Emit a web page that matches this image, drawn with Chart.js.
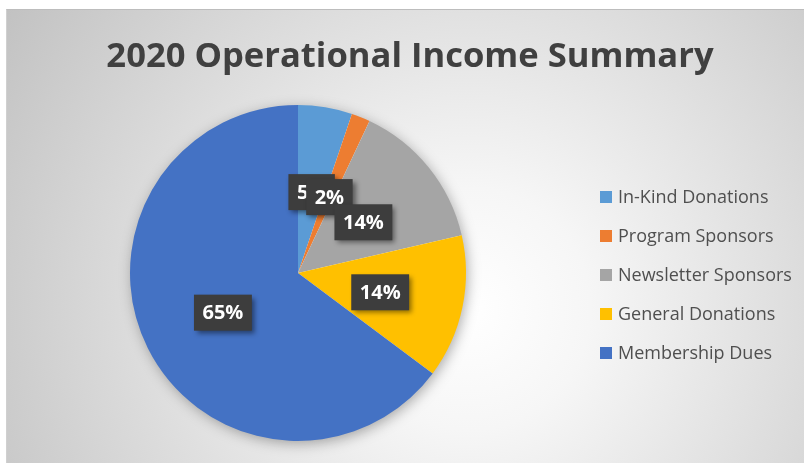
<!DOCTYPE html>
<html>
<head>
<meta charset="utf-8">
<script src="https://cdn.jsdelivr.net/npm/chart.js@4.4.1/dist/chart.umd.min.js"></script>
<style>
  html, body { margin: 0; padding: 0; background: #ffffff; }
  #wrap { position: relative; width: 804px; height: 463px; overflow: hidden; }
  #bg {
    position: absolute; left: 6px; top: 9px; width: 798px; height: 454px;
    box-sizing: border-box; border-top: 1px solid #bdbdbd; border-left: 1px solid #d0d0d0;
    background: radial-gradient(circle farthest-corner at 58% 66%, #ffffff 0%, #f6f6f6 22%, #c2c2c2 100%);
  }
  #chart { position: absolute; left: 0; top: 0; }
</style>
</head>
<body>
<div id="wrap">
  <div id="bg"></div>
  <canvas id="chart" width="804" height="463"></canvas>
</div>
<script>
// Chart data
const categories = ["In-Kind Donations", "Program Sponsors", "Newsletter Sponsors", "General Donations", "Membership Dues"];
const shares = [5.2, 1.8, 14.4, 13.8, 64.8];
const colors = ["#5B9BD5", "#ED7D31", "#A5A5A5", "#FFC000", "#4472C4"];
const titleText = "2020 Operational Income Summary";

const FONT = "'Open Sans', 'Liberation Sans', sans-serif";

// title across the whole card (chart area is pushed left by the legend)
const cardTitle = {
  id: "cardTitle",
  afterDraw(chart) {
    const ctx = chart.ctx;
    ctx.save();
    ctx.font = "bold 34.6px " + FONT;
    ctx.fillStyle = "#404040";
    ctx.textAlign = "center";
    ctx.textBaseline = "alphabetic";
    ctx.fillText(titleText, 410, 67);
    ctx.restore();
  }
};

// soft shadow under the whole pie
const pieShadow = {
  id: "pieShadow",
  beforeDatasetsDraw(chart) {
    const arc = chart.getDatasetMeta(0).data[0];
    if (!arc) return;
    const ctx = chart.ctx;
    ctx.save();
    ctx.shadowColor = "rgba(0,0,0,0.35)";
    ctx.shadowBlur = 14;
    ctx.shadowOffsetX = 2;
    ctx.shadowOffsetY = 3;
    ctx.fillStyle = "#ffffff";
    ctx.beginPath();
    ctx.arc(arc.x, arc.y, arc.outerRadius - 1, 0, Math.PI * 2);
    ctx.fill();
    ctx.restore();
  }
};

// dark boxed percentage labels, drawn in order so later ones overlap
const boxLabels = {
  id: "boxLabels",
  afterDatasetsDraw(chart) {
    const ctx = chart.ctx;
    const meta = chart.getDatasetMeta(0);
    const total = shares.reduce((a, b) => a + b, 0);
    ctx.save();
    ctx.font = "bold 20px " + FONT;
    ctx.textAlign = "center";
    ctx.textBaseline = "middle";
    meta.data.forEach((arc, i) => {
      const pos = arc.tooltipPosition();
      const txt = Math.round(shares[i] / total * 100) + "%";
      const w = ctx.measureText(txt).width + 17;
      const h = 36;
      const cy = pos.y + 2;
      ctx.save();
      ctx.shadowColor = "rgba(0,0,0,0.45)";
      ctx.shadowBlur = 5;
      ctx.shadowOffsetX = 3;
      ctx.shadowOffsetY = 3;
      ctx.fillStyle = "#3d3d3d";
      ctx.fillRect(pos.x - w / 2, cy - h / 2, w, h);
      ctx.restore();
      ctx.fillStyle = "#ffffff";
      ctx.fillText(txt, pos.x, cy + 1);
    });
    ctx.restore();
  }
};

// legend on the right, one row per category
const sideLegend = {
  id: "sideLegend",
  afterDraw(chart) {
    const ctx = chart.ctx;
    const x0 = 600, y0 = 197, step = 39;
    ctx.save();
    ctx.font = "18px " + FONT;
    ctx.textAlign = "left";
    ctx.textBaseline = "middle";
    chart.data.labels.forEach((label, i) => {
      const y = y0 + i * step;
      ctx.fillStyle = colors[i];
      ctx.fillRect(x0, y - 6, 12, 12);
      ctx.fillStyle = "#4f4f4f";
      ctx.fillText(label, x0 + 18, y + 1);
    });
    ctx.restore();
  }
};

new Chart(document.getElementById("chart"), {
  type: "pie",
  data: {
    labels: categories,
    datasets: [{
      data: shares,
      backgroundColor: colors,
      borderWidth: 0,
    }],
  },
  options: {
    responsive: false,
    animation: false,
    events: [],
    layout: { padding: { left: 19, right: 227, top: 105, bottom: 22 } },
    plugins: {
      title: { display: false },
      legend: { display: false },
      tooltip: { enabled: false },
    },
  },
  plugins: [pieShadow, boxLabels, sideLegend, cardTitle],
});
</script>
</body>
</html>
